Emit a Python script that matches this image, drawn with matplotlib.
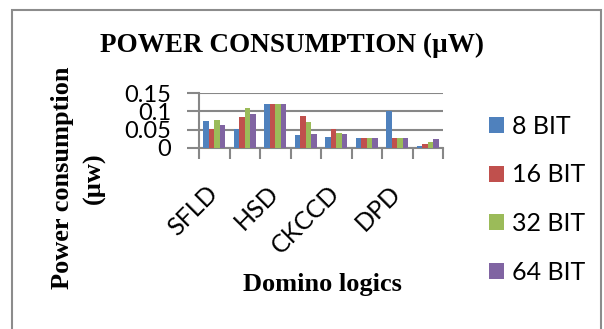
import numpy as np
import matplotlib
matplotlib.use("Agg")
import matplotlib.pyplot as plt
from matplotlib.patches import Rectangle

# domino logic styles (only every other name is printed on the axis)
categories = ['SFLD', '', 'HSD', '', 'CKCCD', '', 'DPD', '']
series_names = ['8 BIT', '16 BIT', '32 BIT', '64 BIT']
bit8 = [0.074, 0.051, 0.120, 0.036, 0.029, 0.028, 0.100, 0.005]
bit16 = [0.052, 0.086, 0.120, 0.088, 0.051, 0.027, 0.026, 0.011]
bit32 = [0.076, 0.110, 0.120, 0.072, 0.041, 0.027, 0.027, 0.016]
bit64 = [0.063, 0.092, 0.120, 0.038, 0.039, 0.027, 0.027, 0.024]
yticks = [0, 0.05, 0.1, 0.15]
ytick_labels = ['0', '0.05', '0.1', '0.15']

colors = ['#4F81BD', '#C0504D', '#9BBB59', '#8064A2']
grid_col = '#878787'
label_font = 'Lato'
serif = 'Liberation Serif'

fig = plt.figure(figsize=(6.04, 3.29), dpi=100)
ax = fig.add_axes([199 / 604, 1 - 147.7 / 329, 244 / 604, 54.4 / 329])

x = np.arange(len(categories))
width = 0.18
for i, (vals, name) in enumerate(zip([bit8, bit16, bit32, bit64], series_names)):
    ax.bar(x + (i - 1.5) * width, vals, width, color=colors[i], label=name, zorder=3)

ax.set_xlim(-0.5, len(categories) - 0.5)
ax.set_ylim(0, 0.15)
ax.set_yticks(yticks)
ax.set_yticklabels(ytick_labels, fontfamily=label_font, fontsize=17)
ax.yaxis.grid(True, color=grid_col, linewidth=1.5, zorder=0)
ax.tick_params(axis='y', length=9, width=1.5, color=grid_col, pad=11)

# category boundaries get the tick marks, labels sit at the group centres
ax.set_xticks(np.arange(len(categories) + 1) - 0.5, minor=True)
ax.tick_params(axis='x', which='minor', length=8, width=1.5, color=grid_col)
ax.set_xticks(x)
ax.set_xticklabels(categories, rotation=45, ha='right', va='center',
                   rotation_mode='anchor', fontfamily=label_font, fontsize=18)
ax.tick_params(axis='x', which='major', length=0, pad=30)

for side in ['top', 'right']:
    ax.spines[side].set_visible(False)
for side in ['left', 'bottom']:
    ax.spines[side].set_color(grid_col)
    ax.spines[side].set_linewidth(1.5)

fig.text(292 / 604, 1 - 45 / 329, 'POWER CONSUMPTION (µW)', ha='center', va='center',
         fontfamily=serif, fontweight='bold', fontsize=19.5)
fig.text(62 / 604, 1 - 178 / 329, 'Power consumption', rotation=90, ha='center', va='center',
         fontfamily=serif, fontweight='bold', fontsize=19)
fig.text(94 / 604, 1 - 178 / 329, '(µw)', rotation=90, ha='center', va='center',
         fontfamily=serif, fontweight='bold', fontsize=19)
fig.text(322 / 604, 1 - 285 / 329, 'Domino logics', ha='center', va='center',
         fontfamily=serif, fontweight='bold', fontsize=19)

fig.legend(loc='upper left', bbox_to_anchor=(479 / 604, 1 - 105 / 329), frameon=False,
           prop={'family': label_font, 'size': 18}, handlelength=0.6, handleheight=0.6,
           handletextpad=0.3, labelspacing=1.02, borderaxespad=0)

# outer chart border
fig.patches.append(Rectangle((12 / 604, -0.05), 589 / 604, 1 - 10 / 329 + 0.05,
                             transform=fig.transFigure, fill=False,
                             edgecolor='#8c8c8c', linewidth=1.5))

fig.savefig('out.png', dpi=100)
